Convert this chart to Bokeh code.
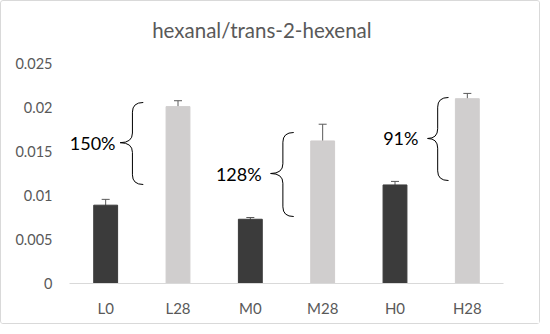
from bokeh.plotting import figure
from bokeh.models import ColumnDataSource, Range1d, FactorRange, Whisker
from bokeh.core.properties import value
from bokeh.embed import file_html
from bokeh.resources import INLINE

categories = ["L0", "L28", "M0", "M28", "H0", "H28"]
means = [0.0089, 0.0201, 0.0073, 0.0162, 0.0112, 0.0210]
errors = [0.00066, 0.00067, 0.0002, 0.0019, 0.0004, 0.0006]
bar_colors = ["#3b3b3b", "#d0cece", "#3b3b3b", "#d0cece", "#3b3b3b", "#d0cece"]
y_ticks = [0, 0.005, 0.01, 0.015, 0.02, 0.025]
y_tick_labels = ["0", "0.005", "0.01", "0.015", "0.02", "0.025"]
title_text = ["hexanal/trans-2-hexenal"]
title_x = [2.66]
title_y = [0.02886]

# brace annotations (category-space x, value-space y)
brace_labels = ["150%", "128%", "91%"]
brace_label_x = [0.32, 2.34, 4.58]
brace_end_x = [1.02, 3.10, 5.24]
brace_spine_x = [0.87, 2.95, 5.09]
brace_tip_x = [0.70, 2.78, 4.95]
brace_top = [0.02057, 0.01716, 0.02114]
brace_bottom = [0.01125, 0.00761, 0.0117]
brace_mid = [0.0160, 0.0125, 0.01648]
brace_r = 0.0011

FONT = "Lato"

# frame: 434 x 268 px; 0..0.025 occupies the lower 220 px, the top holds the title
p = figure(x_range=FactorRange(*categories), y_range=Range1d(0, 268 / 8800),
           width=540, height=324, output_backend="svg", toolbar_location=None,
           min_border_left=68, min_border_right=38, min_border_top=14,
           min_border_bottom=42)
p.outline_line_color = None
p.grid.grid_line_color = None
p.background_fill_color = "white"
p.border_fill_color = "white"
p.styles = {"border": "1px solid #d9d9d9", "border-radius": "3px"}

p.text(x=title_x, y=title_y, text=title_text, text_align="center",
       text_baseline="middle", text_font=value(FONT), text_font_size="20.5px",
       text_color="#595959")

src = ColumnDataSource(dict(cat=categories, val=means, color=bar_colors,
                            upper=[m + e for m, e in zip(means, errors)],
                            lower=[m - e for m, e in zip(means, errors)]))
p.vbar(x="cat", top="val", width=0.33, color="color", source=src)
w = Whisker(base="cat", upper="upper", lower="lower", source=src,
            line_color="#5a5a5a", line_width=1)
w.upper_head.size = 8
w.lower_head.size = 8
w.upper_head.line_color = "#5a5a5a"
w.lower_head.line_color = "#5a5a5a"
p.add_layout(w)

# braces
for i in range(len(brace_labels)):
    xe, xs, xt = brace_end_x[i], brace_spine_x[i], brace_tip_x[i]
    top, bot, mid = brace_top[i], brace_bottom[i], brace_mid[i]
    r = brace_r
    p.quadratic(x0=[xe, xs, xs, xe], y0=[top, mid + r, mid - r, bot],
                x1=[xs, xt, xt, xs], y1=[top - r, mid, mid, bot + r],
                cx=[xs, xs, xs, xs], cy=[top, mid, mid, bot],
                line_color="black", line_width=1)
    p.segment(x0=[xs, xs], y0=[top - r, mid - r], x1=[xs, xs], y1=[mid + r, bot + r],
              line_color="black", line_width=1)

p.text(x=brace_label_x, y=brace_mid, text=brace_labels, text_align="center",
       text_baseline="middle", text_font=value(FONT), text_font_size="18px",
       text_color="black")

p.xaxis.axis_line_color = "#d9d9d9"
p.xaxis.major_tick_line_color = None
p.xaxis.minor_tick_line_color = None
p.xaxis.major_label_standoff = 9
p.xaxis.major_label_text_font = FONT
p.xaxis.major_label_text_font_size = "15px"
p.xaxis.major_label_text_color = "#595959"

p.yaxis.axis_line_color = None
p.yaxis.major_tick_line_color = None
p.yaxis.minor_tick_line_color = None
p.yaxis.ticker = y_ticks
p.yaxis.major_label_overrides = {v: s for v, s in zip(y_ticks, y_tick_labels)}
p.yaxis.major_label_standoff = 11
p.yaxis.major_label_text_font = FONT
p.yaxis.major_label_text_font_size = "14.5px"
p.yaxis.major_label_text_color = "#595959"

open("out.html", "w").write(file_html(p, INLINE))
